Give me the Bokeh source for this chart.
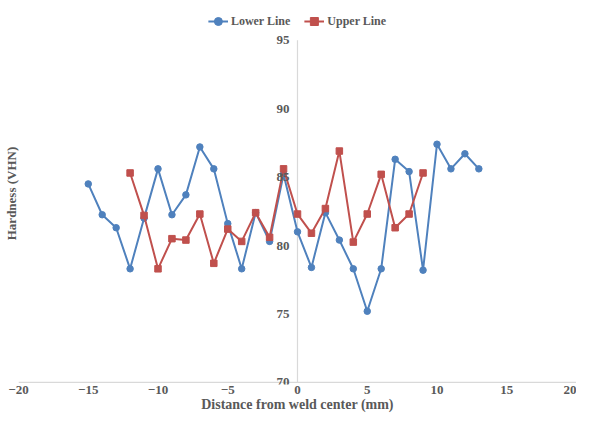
from bokeh.plotting import figure
from bokeh.models import Range1d, Legend, LegendItem, FixedTicker, LabelSet, ColumnDataSource
from bokeh.core.properties import value
from bokeh.embed import file_html
from bokeh.resources import INLINE

lower_x = list(range(-15, 14))
lower_y = [84.5, 82.25, 81.3, 78.3, 82.0, 85.6, 82.25, 83.7, 87.2, 85.6, 81.6, 78.3,
           82.4, 80.3, 85.2, 81.0, 78.4, 82.4, 80.4, 78.3, 75.2, 78.3, 86.3, 85.4,
           78.2, 87.4, 85.6, 86.7, 85.6]
upper_x = list(range(-12, 10))
upper_y = [85.3, 82.2, 78.3, 80.5, 80.4, 82.3, 78.7, 81.2, 80.3, 82.4, 80.6, 85.6,
           82.3, 80.9, 82.7, 86.9, 80.25, 82.3, 85.2, 81.3, 82.3, 85.3]
x_ticks = [-20, -15, -10, -5, 0, 5, 10, 15, 20]
y_ticks = [70, 75, 80, 85, 90, 95]

BLUE = "#4F81BD"
RED = "#C0504D"
TXT = "#595959"
AXIS = "#d9d9d9"
FONT = "Liberation Serif"

p = figure(width=576, height=414, output_backend="svg", toolbar_location=None,
           x_range=Range1d(-20, 20), y_range=Range1d(69.85, 97.75),
           min_border_left=0, min_border_right=0, min_border_top=2, min_border_bottom=0)
p.grid.visible = False
p.outline_line_color = None

# horizontal axis line at y = 70 and vertical axis line at x = 0
p.segment(x0=[min(x_ticks)], y0=[min(y_ticks)], x1=[max(x_ticks)], y1=[min(y_ticks)],
          line_color=AXIS, line_width=1.2)
p.segment(x0=[0], y0=[min(y_ticks)], x1=[0], y1=[max(y_ticks)], line_color=AXIS, line_width=1.2)
ysrc = ColumnDataSource(dict(x=[0] * len(y_ticks), y=y_ticks, t=[str(t) for t in y_ticks]))
p.add_layout(LabelSet(x="x", y="y", text="t", source=ysrc, x_offset=-8,
                      text_align="right", text_baseline="middle",
                      text_font=value(FONT), text_font_style="bold",
                      text_font_size="13px", text_color=TXT))

lr = p.line(lower_x, lower_y, line_color=BLUE, line_width=2)
ls = p.scatter(lower_x, lower_y, marker="circle", size=6.5, fill_color=BLUE, line_color=BLUE)
ur = p.line(upper_x, upper_y, line_color=RED, line_width=2)
us = p.scatter(upper_x, upper_y, marker="square", size=6.5, fill_color=RED, line_color=RED)

xa = p.xaxis[0]
xa.ticker = FixedTicker(ticks=x_ticks)
xa.axis_label = "Distance from weld center (mm)"
xa.axis_line_color = None
xa.major_tick_line_color = None
xa.minor_tick_line_color = None
xa.major_tick_out = 0
xa.major_tick_in = 0
xa.minor_tick_out = 0
xa.minor_tick_in = 0
xa.major_label_text_font = FONT
xa.major_label_text_font_style = "bold"
xa.major_label_text_font_size = "13px"
xa.major_label_text_color = TXT
xa.axis_label_text_font = FONT
xa.axis_label_text_font_style = "bold"
xa.axis_label_text_font_size = "14px"
xa.axis_label_text_color = TXT
xa.major_label_standoff = 1
xa.axis_label_standoff = 0

ya = p.yaxis[0]
ya.ticker = FixedTicker(ticks=[])
ya.axis_label = "Hardness (VHN)"
ya.axis_line_color = None
ya.major_tick_line_color = None
ya.minor_tick_line_color = None
ya.major_tick_out = 0
ya.major_tick_in = 0
ya.minor_tick_out = 0
ya.minor_tick_in = 0
ya.major_label_text_font_size = "0px"
ya.major_label_standoff = 0
ya.axis_label_standoff = 0
ya.axis_label_text_font = FONT
ya.axis_label_text_font_style = "bold"
ya.axis_label_text_font_size = "13px"
ya.axis_label_text_color = TXT

legend = Legend(items=[LegendItem(label="Lower Line", renderers=[lr, ls]),
                       LegendItem(label="Upper Line", renderers=[ur, us])],
                orientation="horizontal", location="top_center",
                label_text_font=FONT, label_text_font_style="bold",
                label_text_font_size="12px", label_text_color=TXT,
                border_line_color=None, background_fill_alpha=0,
                glyph_width=20, label_standoff=3, spacing=14, padding=2, margin=9)
p.add_layout(legend)

open("out.html", "w").write(file_html(p, INLINE))
